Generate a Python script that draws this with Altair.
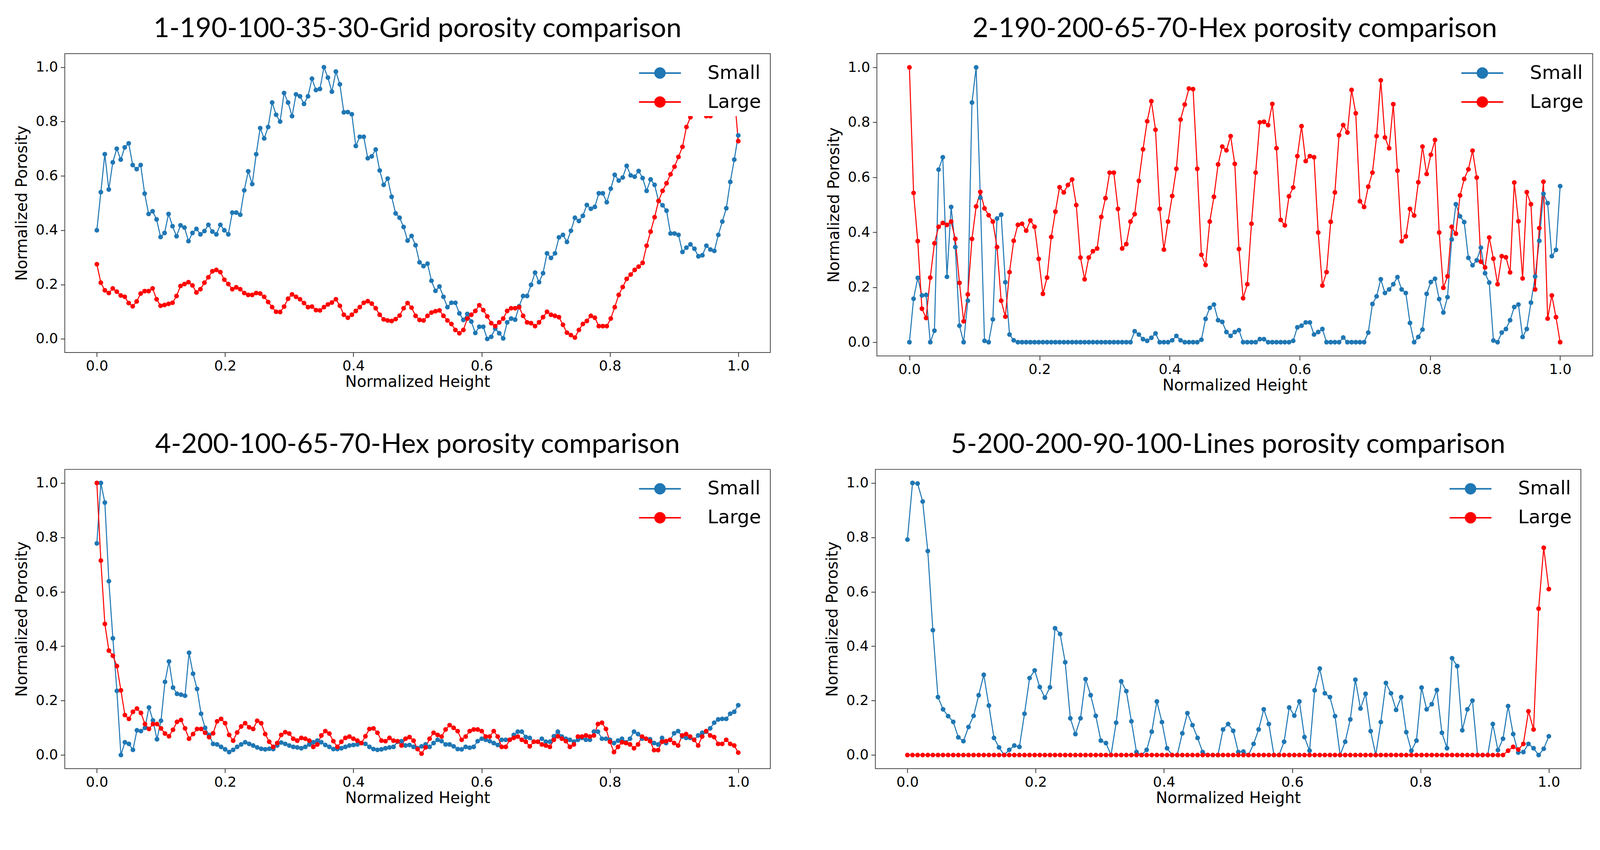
import altair as alt
import pandas as pd

# ---------------- data ----------------
TITLES = [
    "1-190-100-35-30-Grid porosity comparison",
    "2-190-200-65-70-Hex porosity comparison",
    "4-200-100-65-70-Hex porosity comparison",
    "5-200-200-90-100-Lines porosity comparison",
]
SERIES = ["Small", "Large"]
COLORS = ["#1f77b4", "#ff0000"]
TICKS = [0.0, 0.2, 0.4, 0.6, 0.8, 1.0]
X_TITLE = "Normalized Height"
Y_TITLE = "Normalized Porosity"

P1_SMALL = [
    0.40, 0.54, 0.68, 0.55, 0.65, 0.70, 0.66, 0.705, 0.72, 0.64,
    0.625, 0.64, 0.535, 0.46, 0.47, 0.44, 0.375, 0.39, 0.46, 0.415,
    0.378, 0.418, 0.41, 0.36, 0.39, 0.405, 0.385, 0.397, 0.42, 0.395,
    0.385, 0.42, 0.40, 0.385, 0.465, 0.465, 0.457, 0.547, 0.617, 0.57,
    0.68, 0.776, 0.738, 0.78, 0.87, 0.825, 0.80, 0.905, 0.87, 0.82,
    0.90, 0.893, 0.865, 0.893, 0.958, 0.916, 0.92, 1.0, 0.962, 0.91,
    0.984, 0.937, 0.834, 0.835, 0.827, 0.71, 0.744, 0.744, 0.665, 0.672,
    0.697, 0.62, 0.567, 0.59, 0.523, 0.462, 0.446,
    0.412, 0.362, 0.379, 0.345, 0.282, 0.268, 0.277, 0.214, 0.177, 0.193,
    0.155, 0.117, 0.133, 0.133, 0.094, 0.07, 0.092, 0.064, 0.022, 0.045,
    0.045, 0.0, 0.008, 0.038, 0.021, 0.002, 0.061, 0.075, 0.071, 0.12,
    0.158, 0.158, 0.199, 0.244, 0.209, 0.242, 0.315, 0.298, 0.315, 0.374,
    0.383, 0.357, 0.398, 0.446, 0.434, 0.453, 0.493, 0.479, 0.486, 0.536,
    0.536, 0.503, 0.553, 0.604, 0.583, 0.594, 0.637, 0.602, 0.597, 0.618,
    0.592, 0.545, 0.587, 0.567, 0.508, 0.492, 0.472, 0.388, 0.388, 0.383,
    0.32, 0.336, 0.348, 0.332, 0.304, 0.308, 0.343, 0.329, 0.324, 0.383,
    0.432, 0.481, 0.578, 0.66, 0.749,
]
P1_LARGE = [
    0.275, 0.207, 0.179, 0.169, 0.186, 0.174, 0.16, 0.155, 0.132, 0.12,
    0.138, 0.167, 0.176, 0.176, 0.186, 0.146, 0.122, 0.125, 0.129, 0.133,
    0.158, 0.195, 0.202, 0.209, 0.197, 0.171, 0.183, 0.207, 0.227, 0.249,
    0.254, 0.246, 0.218, 0.202, 0.183, 0.19, 0.183, 0.169, 0.162, 0.162,
    0.169, 0.167, 0.155, 0.136, 0.117, 0.1, 0.099, 0.119, 0.148, 0.164,
    0.155, 0.146, 0.132, 0.117, 0.119, 0.106, 0.105, 0.117, 0.127, 0.134,
    0.146, 0.122, 0.089, 0.078, 0.089, 0.103, 0.117, 0.133, 0.139, 0.13,
    0.113, 0.089, 0.072, 0.068, 0.066, 0.073, 0.086,
    0.113, 0.132, 0.115, 0.085, 0.07, 0.068, 0.085, 0.097, 0.102, 0.105,
    0.085, 0.068, 0.055, 0.033, 0.021, 0.033, 0.075, 0.089, 0.103, 0.124,
    0.106, 0.083, 0.058, 0.047, 0.061, 0.075, 0.103, 0.113, 0.113, 0.117,
    0.085, 0.061, 0.058, 0.047, 0.061, 0.08, 0.1, 0.089, 0.085, 0.08,
    0.052, 0.023, 0.014, 0.005, 0.033, 0.055, 0.066, 0.085, 0.078, 0.047,
    0.047, 0.047, 0.075, 0.117, 0.162, 0.191, 0.221, 0.237, 0.254, 0.266,
    0.28, 0.343, 0.395, 0.448, 0.508, 0.545, 0.573, 0.606, 0.634, 0.67,
    0.707, 0.78, 0.816, 0.84, 0.86, 0.84, 0.82, 0.82, 0.86, 0.91,
    0.96, 1.0, 0.96, 0.9, 0.728,
]

P2_SMALL = [
    0.0, 0.158, 0.234, 0.17, 0.172, 0.0, 0.042, 0.628, 0.673, 0.238,
    0.492, 0.346, 0.06, 0.0, 0.151, 0.872, 1.0, 0.526, 0.005, 0.0,
    0.083, 0.45, 0.464, 0.218, 0.028, 0.007,
    0.0, 0.0, 0.0, 0.0, 0.0, 0.0, 0.0, 0.0, 0.0, 0.0,
    0.0, 0.0, 0.0, 0.0, 0.0, 0.0, 0.0, 0.0, 0.0, 0.0,
    0.0, 0.0, 0.0, 0.0, 0.0, 0.0, 0.0, 0.0,
    0.04, 0.028, 0.011, 0.005, 0.016, 0.032, 0.0, 0.0, 0.0, 0.007,
    0.023, 0.007, 0.0, 0.0, 0.0, 0.0, 0.009, 0.085, 0.125,
    0.137, 0.08, 0.074, 0.037, 0.023, 0.037, 0.044, 0.0, 0.0, 0.0,
    0.0, 0.011, 0.011, 0.0, 0.0, 0.0, 0.0, 0.0, 0.0, 0.005,
    0.054, 0.06, 0.072, 0.072, 0.028, 0.037, 0.048, 0.0, 0.0, 0.0,
    0.0, 0.017, 0.0, 0.0, 0.0, 0.0, 0.0, 0.035, 0.139, 0.167,
    0.229, 0.179, 0.192, 0.211, 0.237, 0.192, 0.179, 0.07, 0.0, 0.019,
    0.046, 0.176, 0.219, 0.231, 0.157, 0.108, 0.164, 0.374, 0.502, 0.458,
    0.437, 0.307, 0.28, 0.298, 0.344, 0.251, 0.217, 0.006, 0.0, 0.035,
    0.048, 0.08, 0.128, 0.137, 0.019, 0.048, 0.144, 0.239, 0.369, 0.54,
    0.506, 0.313, 0.336, 0.568,
]
P2_LARGE = [
    1.0, 0.543, 0.368, 0.122, 0.088, 0.235, 0.36, 0.42, 0.434, 0.427,
    0.439, 0.376, 0.216, 0.076, 0.174, 0.376, 0.494, 0.547, 0.487, 0.462,
    0.439, 0.346, 0.151, 0.093, 0.255, 0.369, 0.427, 0.431, 0.406, 0.443,
    0.42, 0.303, 0.176, 0.235, 0.383, 0.475, 0.564, 0.545, 0.572, 0.592,
    0.499, 0.308, 0.229, 0.308, 0.331, 0.341, 0.456, 0.524, 0.617, 0.617,
    0.485, 0.341, 0.357, 0.439, 0.466, 0.587, 0.702, 0.804, 0.877, 0.773,
    0.485, 0.337, 0.439, 0.532, 0.631, 0.81, 0.865, 0.923, 0.921, 0.631,
    0.318, 0.281, 0.439,
    0.529, 0.647, 0.712, 0.698, 0.75, 0.649, 0.339, 0.16, 0.211, 0.431,
    0.617, 0.8, 0.802, 0.79, 0.867, 0.706, 0.445, 0.425, 0.531, 0.563,
    0.677, 0.786, 0.659, 0.677, 0.673, 0.399, 0.206, 0.255, 0.438, 0.545,
    0.753, 0.79, 0.763, 0.918, 0.833, 0.513, 0.492, 0.566, 0.617, 0.75,
    0.953, 0.745, 0.706, 0.866, 0.624, 0.367, 0.385, 0.485, 0.461, 0.582,
    0.712, 0.612, 0.682, 0.736, 0.399, 0.198, 0.24, 0.42, 0.395, 0.534,
    0.594, 0.629, 0.697, 0.599, 0.293, 0.272, 0.381, 0.304, 0.211, 0.313,
    0.309, 0.254, 0.581, 0.44, 0.232, 0.546, 0.502, 0.192, 0.415, 0.584,
    0.086, 0.17, 0.091, 0.0,
]

P3_SMALL = [
    0.778, 1.0, 0.928, 0.639, 0.429, 0.236, 0.0, 0.047, 0.041, 0.019,
    0.091, 0.088, 0.1, 0.175, 0.127, 0.058, 0.126, 0.269, 0.344, 0.248,
    0.225, 0.222, 0.218, 0.376, 0.299, 0.243, 0.152, 0.1, 0.074, 0.041,
    0.039, 0.03, 0.021, 0.011, 0.019, 0.03, 0.039, 0.047, 0.041, 0.035,
    0.028, 0.023, 0.021, 0.023, 0.022, 0.035, 0.046, 0.041, 0.035, 0.03,
    0.028, 0.025, 0.03, 0.039, 0.047, 0.053, 0.047, 0.037, 0.03, 0.022,
    0.022, 0.025, 0.03, 0.035, 0.037, 0.039, 0.044, 0.041, 0.03, 0.022,
    0.019, 0.021, 0.025, 0.028, 0.03, 0.049,
    0.051, 0.035, 0.037, 0.03, 0.025, 0.032, 0.039, 0.03, 0.044, 0.056,
    0.051, 0.039, 0.039, 0.032, 0.022, 0.021, 0.03, 0.027, 0.03, 0.051,
    0.06, 0.056, 0.051, 0.044, 0.037, 0.056, 0.056, 0.056, 0.074, 0.086,
    0.086, 0.066, 0.063, 0.049, 0.049, 0.06, 0.049, 0.049, 0.069, 0.086,
    0.068, 0.06, 0.056, 0.049, 0.056, 0.063, 0.056, 0.056, 0.086, 0.086,
    0.06, 0.06, 0.056, 0.044, 0.053, 0.06, 0.047, 0.06, 0.086, 0.077,
    0.06, 0.06, 0.058, 0.044, 0.039, 0.063, 0.044, 0.056, 0.08, 0.088,
    0.068, 0.063, 0.063, 0.056, 0.072, 0.082, 0.086, 0.098, 0.119, 0.131,
    0.133, 0.133, 0.152, 0.159, 0.183,
]
P3_LARGE = [
    1.0, 0.715, 0.482, 0.384, 0.365, 0.327, 0.238, 0.147, 0.133, 0.159,
    0.171, 0.155, 0.114, 0.096, 0.114, 0.114, 0.098, 0.079, 0.069, 0.093,
    0.122, 0.129, 0.098, 0.06, 0.077, 0.096, 0.096, 0.082, 0.066, 0.08,
    0.124, 0.133, 0.117, 0.074, 0.053, 0.083, 0.105, 0.117, 0.102, 0.096,
    0.126, 0.117, 0.077, 0.049, 0.03, 0.044, 0.074, 0.084, 0.079, 0.06,
    0.053, 0.063, 0.06, 0.053, 0.03, 0.039, 0.072, 0.088, 0.079, 0.051,
    0.03, 0.049, 0.063, 0.068, 0.06, 0.053, 0.044, 0.069, 0.096, 0.098,
    0.082, 0.053, 0.051, 0.063, 0.053, 0.051,
    0.035, 0.06, 0.066, 0.053, 0.022, 0.005, 0.028, 0.06, 0.082, 0.074,
    0.068, 0.094, 0.11, 0.1, 0.088, 0.056, 0.068, 0.088, 0.094, 0.094,
    0.088, 0.068, 0.068, 0.088, 0.068, 0.03, 0.03, 0.056, 0.063, 0.068,
    0.056, 0.049, 0.032, 0.049, 0.049, 0.039, 0.035, 0.03, 0.056, 0.069,
    0.06, 0.051, 0.03, 0.039, 0.068, 0.068, 0.072, 0.068, 0.072, 0.114,
    0.119, 0.096, 0.049, 0.011, 0.03, 0.047, 0.044, 0.039, 0.025, 0.039,
    0.068, 0.06, 0.051, 0.018, 0.018, 0.049, 0.051, 0.056, 0.044, 0.035,
    0.072, 0.077, 0.068, 0.056, 0.035, 0.068, 0.088, 0.072, 0.066, 0.041,
    0.041, 0.056, 0.041, 0.035, 0.009,
]

P4_SMALL = [
    0.792, 1.0, 0.998, 0.932, 0.75, 0.459, 0.213, 0.168, 0.143, 0.122,
    0.065, 0.051, 0.103, 0.144, 0.22, 0.295, 0.182, 0.063, 0.028, 0.0,
    0.019, 0.035, 0.03, 0.152, 0.283, 0.311, 0.25, 0.211, 0.249, 0.466,
    0.445, 0.341, 0.135, 0.077, 0.135, 0.279, 0.22, 0.144, 0.053, 0.044,
    0.0, 0.119, 0.271, 0.235, 0.124, 0.011, 0.0, 0.019, 0.086, 0.197,
    0.121, 0.025, 0.0, 0.0, 0.08, 0.154, 0.11, 0.063, 0.011,
    0.0, 0.0, 0.0, 0.094, 0.114, 0.089, 0.011, 0.013, 0.0, 0.041,
    0.094, 0.168, 0.114, 0.0, 0.0, 0.049, 0.175, 0.145, 0.197, 0.066,
    0.016, 0.238, 0.318, 0.227, 0.213, 0.143, 0.0, 0.049, 0.131, 0.277,
    0.171, 0.225, 0.088, 0.0, 0.121, 0.265, 0.227, 0.166, 0.213, 0.084,
    0.016, 0.053, 0.248, 0.168, 0.187, 0.239, 0.082, 0.025, 0.356, 0.327,
    0.091, 0.168, 0.2, 0.0, 0.0, 0.0, 0.114, 0.018, 0.06, 0.18,
    0.077, 0.009, 0.011, 0.041, 0.025, 0.0, 0.023, 0.069,
]
P4_LARGE = [0.0] * 118 + [0.016, 0.03, 0.02, 0.041, 0.161, 0.094, 0.538, 0.762, 0.61]

# ---------------- chart ----------------
LEGEND_SYMBOL = "M-2.2,0L2.2,0M-0.52,0A0.52,0.52,0,1,0,0.52,0A0.52,0.52,0,1,0,-0.52,0Z"


def make_frame(small, large):
    rows = []
    for name, vals in ((SERIES[0], small), (SERIES[1], large)):
        n = len(vals)
        rows += [{"h": i / (n - 1), "p": v, "s": name} for i, v in enumerate(vals)]
    return pd.DataFrame(rows)


def panel(title, small, large, width, height):
    df = make_frame(small, large)
    x = alt.X("h:Q", scale=alt.Scale(domain=[-0.05, 1.05], nice=False, zero=False),
              axis=alt.Axis(title=X_TITLE, values=TICKS, format=".1f", labelFlush=False))
    y = alt.Y("p:Q", scale=alt.Scale(domain=[-0.05, 1.05], nice=False, zero=False),
              axis=alt.Axis(title=Y_TITLE, values=TICKS, format=".1f", labelFlush=False))
    color = alt.Color(
        "s:N", sort=SERIES,
        scale=alt.Scale(domain=SERIES, range=COLORS),
        legend=alt.Legend(
            title=None, orient="top-right", offset=12, padding=12,
            fillColor="white", labelFont="DejaVu Sans", labelFontSize=50,
            labelColor="black", labelLimit=400,
            symbolType=LEGEND_SYMBOL, symbolSize=2500, symbolStrokeWidth=4,
            symbolOffset=28, labelOffset=98, rowPadding=24, symbolOpacity=1,
        ),
    )
    base = alt.Chart(df)
    lines = base.mark_line(strokeWidth=2.7).encode(x=x, y=y, color=color)
    pts = base.mark_circle(size=155, opacity=1).encode(x=x, y=y, color=color)
    return alt.layer(lines, pts).properties(
        width=width, height=height,
        title=alt.TitleParams(title, font="Lato", fontSize=72, fontWeight="normal",
                              color="black", offset=28, anchor="middle"),
    )


p1 = panel(TITLES[0], P1_SMALL, P1_LARGE, 1854, 785)
p2 = panel(TITLES[1], P2_SMALL, P2_LARGE, 1881, 794)
p3 = panel(TITLES[2], P3_SMALL, P3_LARGE, 1854, 786)
p4 = panel(TITLES[3], P4_SMALL, P4_LARGE, 1854, 786)

row1 = alt.hconcat(p1, p2, spacing=145).resolve_scale(color="independent")
row2 = alt.hconcat(p3, p4, spacing=141).resolve_scale(color="independent")

chart = (
    alt.vconcat(row1, row2, spacing=97)
    .resolve_scale(color="independent")
    .properties(padding={"left": 28, "top": 3, "right": 10, "bottom": 10}, background="white")
    .configure_view(stroke="#444", strokeWidth=2)
    .configure_axis(
        labelFont="DejaVu Sans", labelFontSize=37, labelColor="black",
        titleFont="DejaVu Sans", titleFontSize=41, titleFontWeight="normal", titleColor="black",
        tickSize=11, tickWidth=2, tickColor="#333", domain=False, grid=False, labelPadding=7,
    )
    .configure_axisX(titlePadding=4)
    .configure_axisY(titlePadding=14)
)

chart.save("out.html", embed_options={"renderer": "svg", "actions": False})
